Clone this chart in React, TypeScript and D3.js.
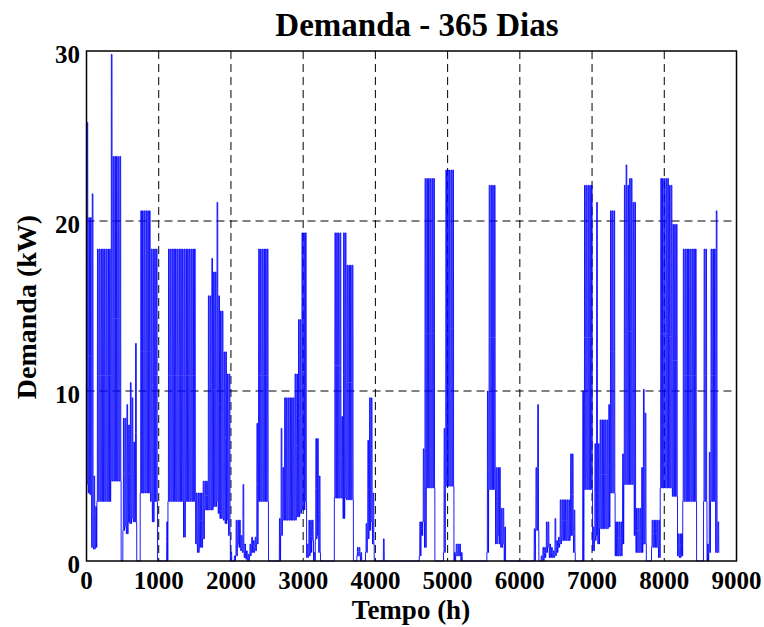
import React from "react";
import * as d3 from "d3";

// Daily peak demand (kW), read per day (365 days) from the reference
const dayPeak: number[] = [
  25.8, 20.2, 20.2, 21.6, 5.0, 3.2, 18.35, 18.35, 18.35, 18.35, 18.35, 18.35, 18.35, 18.35, 29.8, 23.8, 23.8, 23.8, 23.8, 23.8,
  0, 8.4, 8.4, 9.2, 8.0, 10.5, 9.6, 7.0, 12.8, 0, 0, 20.6, 20.6, 20.6, 20.6, 20.6, 20.6, 18.35, 18.35, 18.35,
  18.35, 0, 0, 0, 0, 0, 2.3, 18.35, 18.35, 18.35, 18.35, 18.35, 18.35, 18.35, 18.35, 18.35, 18.35, 18.35, 18.35, 18.35,
  18.35, 18.35, 18.35, 4.0, 4.0, 4.0, 4.0, 4.7, 4.7, 4.7, 15.6, 15.6, 17.8, 17.0, 17.0, 21.1, 15.6, 14.7, 14.7, 12.3,
  12.3, 11.0, 11.0, 0.5, 0, 0.3, 2.4, 2.4, 2.4, 1.5, 4.5, 1.0, 0.6, 0.4, 1.0, 1.4, 1.2, 1.4, 8.1, 18.35,
  18.35, 18.35, 18.35, 18.35, 18.35, 0, 0, 0, 0, 0, 0, 2.5, 7.8, 5.5, 9.6, 9.6, 9.6, 9.6, 9.6, 9.6,
  11.0, 11.0, 14.2, 14.2, 19.3, 19.3, 19.3, 1.0, 2.4, 2.4, 2.4, 0.5, 7.2, 7.2, 5.0, 0, 0, 0, 0, 0,
  0, 0, 0, 19.3, 19.3, 19.3, 19.3, 8.5, 19.3, 19.3, 17.4, 17.4, 17.4, 17.4, 0, 0, 0.8, 0.8, 0.5, 0,
  0, 2.2, 7.1, 9.6, 9.6, 4.0, 0, 0, 0, 0, 0, 1.3, 0, 0, 0, 0, 0, 0, 0, 0,
  0, 0, 0, 0, 0, 0, 0, 0, 0, 0, 0, 0, 2.3, 2.3, 6.6, 22.5, 22.5, 22.5, 22.5, 22.5,
  22.5, 0, 0, 0, 0, 0, 7.8, 23.0, 23.0, 23.0, 23.0, 23.0, 0.5, 1.0, 1.0, 1.0, 0.5, 0, 0, 0,
  0, 0, 0, 0, 0, 0, 0, 0, 0, 0, 0, 10.0, 22.1, 22.1, 22.1, 22.1, 5.5, 5.5, 5.5, 3.1,
  3.1, 2.0, 0, 0, 0, 0, 0, 0, 0, 0, 0, 0, 0, 0, 0, 0, 0, 0, 1.9, 5.5,
  9.2, 0, 0.3, 0.8, 0.8, 2.3, 2.3, 1.0, 0.8, 0.6, 2.5, 1.2, 1.4, 3.6, 3.6, 3.6, 3.6, 3.6, 3.6, 6.3,
  6.3, 3.0, 0, 0, 0, 0, 10.0, 22.1, 22.1, 22.1, 22.1, 22.1, 2.0, 6.9, 21.1, 6.9, 8.3, 8.3, 8.3, 8.3,
  8.3, 9.2, 20.6, 20.6, 20.6, 2.3, 2.3, 2.3, 2.3, 6.3, 22.1, 23.3, 22.1, 22.5, 22.5, 21.1, 21.1, 3.1, 3.1, 3.1,
  5.5, 10.1, 8.7, 0, 0, 0, 2.4, 2.4, 2.4, 2.4, 2.4, 22.5, 22.5, 22.5, 22.5, 22.5, 22.1, 22.1, 19.8, 19.8,
  19.8, 1.6, 1.6, 1.6, 18.35, 18.35, 18.35, 18.35, 18.35, 18.35, 18.35, 18.35, 0, 0, 0, 0, 18.35, 18.35, 1.0, 6.4,
  18.35, 18.35, 18.35, 20.6, 2.3,
];

// Daily base (night) demand (kW)
const dayBase: number[] = [
  4.5, 4.0, 3.9, 0.8, 0.7, 0.8, 3.5, 3.5, 3.5, 3.5, 3.5, 3.5, 3.5, 3.5, 4.7, 4.7, 4.7, 4.7, 4.7, 4.7,
  0, 1.8, 2.0, 1.6, 2.3, 2.2, 2.5, 2.3, 2.3, 0, 0, 4.0, 4.0, 4.0, 4.0, 4.0, 4.0, 3.5, 2.3, 3.5,
  3.5, 0, 0, 0, 0, 0, 0, 3.5, 3.5, 3.5, 3.5, 3.5, 3.5, 3.5, 3.5, 3.5, 1.4, 3.5, 3.5, 3.5,
  3.5, 3.5, 3.5, 1.0, 0.5, 0.8, 0.8, 1.3, 3.0, 3.0, 3.0, 3.0, 3.0, 3.2, 3.2, 3.5, 2.8, 2.5, 2.5, 2.4,
  2.2, 2.4, 1.5, 0, 0, 0, 0.3, 1.0, 0.8, 0.6, 0.5, 0.2, 0.1, 0, 0.3, 0.5, 0.5, 0.6, 1.0, 3.5,
  3.5, 3.5, 3.5, 3.5, 3.5, 0, 0, 0, 0, 0, 0, 0, 1.5, 2.4, 2.4, 2.4, 2.4, 2.4, 2.4, 2.4,
  2.4, 2.6, 2.6, 2.8, 3.0, 3.0, 3.5, 0.2, 0.3, 0.5, 1.2, 0, 1.3, 1.5, 0.5, 0, 0, 0, 0, 0,
  0, 0, 0, 3.7, 3.7, 3.7, 3.7, 3.7, 2.5, 3.7, 3.6, 3.6, 3.6, 3.6, 0, 0, 0.3, 0.3, 0, 0,
  0, 0.5, 1.3, 1.8, 2.3, 1.0, 0, 0, 0, 0, 0, 0, 0, 0, 0, 0, 0, 0, 0, 0,
  0, 0, 0, 0, 0, 0, 0, 0, 0, 0, 0, 0, 0.3, 1.5, 2.3, 0.8, 4.3, 4.3, 4.3, 4.3,
  4.3, 0, 0, 0, 0, 0, 0.5, 4.4, 4.4, 4.4, 4.4, 4.4, 0, 0.3, 0.3, 0.3, 0, 0, 0, 0,
  0, 0, 0, 0, 0, 0, 0, 0, 0, 0, 0, 0.5, 4.2, 4.2, 4.2, 4.2, 1.0, 1.5, 1.0, 0.8,
  1.0, 0, 0, 0, 0, 0, 0, 0, 0, 0, 0, 0, 0, 0, 0, 0, 0, 0, 0, 1.8,
  1.8, 0, 0, 0, 0.2, 0.5, 0.8, 0.2, 0.2, 0.2, 0.3, 0.5, 0.8, 1.0, 1.2, 1.2, 1.2, 1.2, 1.2, 1.5,
  1.5, 0.5, 0, 0, 0, 0, 0, 4.2, 4.2, 4.2, 4.2, 4.2, 0.6, 1.2, 1.5, 1.0, 1.9, 1.9, 1.9, 1.9,
  1.9, 2.0, 4.0, 4.0, 4.0, 0.3, 0.3, 0.3, 0.3, 1.0, 4.5, 4.5, 4.5, 4.5, 4.5, 4.5, 1.5, 0.5, 0.5, 0.5,
  0.5, 1.0, 1.0, 0, 0, 0, 0.8, 0.8, 0.8, 0.8, 0.2, 4.3, 4.3, 4.3, 4.3, 4.3, 4.3, 4.3, 3.8, 3.8,
  3.8, 0.3, 0.2, 0.3, 3.5, 3.5, 3.5, 3.5, 3.5, 3.5, 3.5, 3.5, 0, 0, 0, 0, 3.5, 3.5, 0, 0.5,
  3.5, 3.5, 3.5, 0.5, 0.5,
];

// Hourly load shape within a day (0 = base, 1 = peak)
const hourShape: number[] = [0, 0, 0, 0, 0, 0, 0, 0.5, 1, 1, 1, 1, 1, 1, 1, 1, 1, 1, 0.5, 0, 0, 0, 0, 0];

const xTicks: number[] = [0, 1000, 2000, 3000, 4000, 5000, 6000, 7000, 8000, 9000];
const yTicks: number[] = [0, 10, 20, 30];
const titleText = "Demanda - 365 Dias";
const xLabel = "Tempo (h)";
const yLabel = "Demanda (kW)";

const W = 764;
const H = 627;
const FONT = "'Liberation Serif', 'Times New Roman', Times, serif";

export default function App() {
  const left = 86.5, right = 736.5, top = 51, bottom = 561;
  const x = d3.scaleLinear().domain([0, 9000]).range([left, right]);
  const y = d3.scaleLinear().domain([0, 30]).range([bottom, top]);

  const series: [number, number][] = [];
  dayPeak.forEach((pk, d) => {
    const b = dayBase[d];
    hourShape.forEach((s, h) => {
      series.push([d * 24 + h, b + (pk - b) * s]);
    });
  });

  const line = d3
    .line<[number, number]>()
    .x((p) => x(p[0]))
    .y((p) => y(p[1]));

  return (
    <svg
      width={W}
      height={H}
      style={{ position: "absolute", left: 0, top: 0, background: "#fff" }}
      fontFamily={FONT}
    >
      <rect x={0} y={0} width={W} height={H} fill="#fff" />
      {/* grid */}
      {xTicks
        .filter((t) => t > 0 && t < 9000)
        .map((t) => (
          <line
            key={"gx" + t}
            x1={x(t)}
            x2={x(t)}
            y1={top}
            y2={bottom}
            stroke="#000"
            strokeWidth={1}
            strokeDasharray="8,5"
          />
        ))}
      {yTicks
        .filter((t) => t > 0 && t < 30)
        .map((t) => (
          <line
            key={"gy" + t}
            x1={left}
            x2={right}
            y1={y(t)}
            y2={y(t)}
            stroke="#000"
            strokeWidth={1}
            strokeDasharray="8,5"
          />
        ))}
      {/* data */}
      <path d={line(series) || ""} fill="none" stroke="#0000ff" strokeWidth={0.9} />
      {/* frame */}
      <rect x={left} y={top} width={right - left} height={bottom - top} fill="none" stroke="#000" strokeWidth={1.5} />
      {/* tick labels */}
      {xTicks.map((t) => (
        <text key={"tx" + t} x={x(t)} y={589} textAnchor="middle" fontSize={25} fontWeight="bold" fill="#000">
          {t}
        </text>
      ))}
      {yTicks.map((t) => (
        <text key={"ty" + t} x={80} y={y(t) + 11.5} textAnchor="end" fontSize={25} fontWeight="bold" fill="#000">
          {t}
        </text>
      ))}
      {/* title & labels */}
      <text x={417} y={35.5} textAnchor="middle" fontSize={33} fontWeight="bold" fill="#000">
        {titleText}
      </text>
      <text x={411} y={619} textAnchor="middle" fontSize={27} fontWeight="bold" fill="#000">
        {xLabel}
      </text>
      <text
        transform="translate(36,307) rotate(-90)"
        textAnchor="middle"
        fontSize={28}
        fontWeight="bold"
        fill="#000"
      >
        {yLabel}
      </text>
    </svg>
  );
}
